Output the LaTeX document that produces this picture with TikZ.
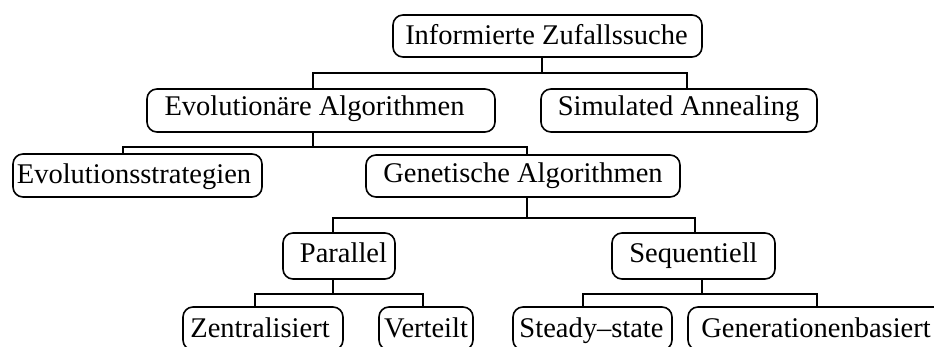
\documentclass[tikz,border=0pt]{standalone}
\usepackage{fontspec}
\setmainfont{Liberation Serif}
\begin{document}
\begin{tikzpicture}[x=1pt,y=-1pt,
  box/.style={draw, line width=1.6pt, rounded corners=10pt, inner sep=0pt},
  lbl/.style={font=\fontsize{28.5}{30}\selectfont, inner sep=0pt, anchor=base},
  conn/.style={line width=1.6pt}]
\fill[white] (0,0) rectangle (934,347);
\useasboundingbox (0,0) rectangle (934,347);

% boxes
\node[box, minimum width=309pt, minimum height=42pt] (root) at (547.5,36) {};
\node[box, minimum width=348pt, minimum height=43pt] (evo) at (321,110.5) {};
\node[box, minimum width=276pt, minimum height=43pt] (sa) at (679,110.5) {};
\node[box, minimum width=249pt, minimum height=43pt] (es) at (137.5,175.5) {};
\node[box, minimum width=314pt, minimum height=42pt] (ga) at (523,176) {};
\node[box, minimum width=112pt, minimum height=46pt] (par) at (339,256) {};
\node[box, minimum width=163pt, minimum height=46pt] (seq) at (693.5,256) {};
\node[box, minimum width=160pt, minimum height=43pt] (zen) at (263,328.5) {};
\node[box, minimum width=94pt, minimum height=43pt] (ver) at (426,328.5) {};
\node[box, minimum width=159pt, minimum height=43pt] (ste) at (592.5,328.5) {};
\node[box, minimum width=257pt, minimum height=43pt] (gen) at (816.5,328.5) {};

% labels
\node[lbl] (root-t) at (546.5,45) {Informierte Zufallssuche};
\node[lbl] (evo-t) at (314.5,116) {Evolutionäre Algorithmen};
\node[lbl] (sa-t) at (678.5,116) {Simulated Annealing};
\node[lbl] (es-t) at (134,184) {Evolutionsstrategien};
\node[lbl] (ga-t) at (523,183) {Genetische Algorithmen};
\node[lbl] (par-t) at (343.5,263) {Parallel};
\node[lbl] (seq-t) at (693.5,263) {Sequentiell};
\node[lbl] (zen-t) at (260,337) {Zentralisiert};
\node[lbl] (ver-t) at (426,337) {Verteilt};
\node[lbl] (ste-t) at (591.5,337) {Steady–state};
\node[lbl] (gen-t) at (816,337) {Generationenbasiert};

% attachment points of the connectors
\coordinate (rootS) at ([xshift=-5.5pt]root.south);
\coordinate (evoN) at ([xshift=-8pt]evo.north);
\coordinate (evoS) at ([xshift=-8pt]evo.south);
\coordinate (saN) at ([xshift=8pt]sa.north);
\coordinate (esN) at ([xshift=-14.5pt]es.north);
\coordinate (gaN) at ([xshift=4pt]ga.north);
\coordinate (gaS) at ([xshift=4pt]ga.south);
\coordinate (parN) at ([xshift=-6pt]par.north);
\coordinate (parS) at ([xshift=-6pt]par.south);
\coordinate (seqN) at ([xshift=1.5pt]seq.north);
\coordinate (seqS) at ([xshift=8.5pt]seq.south);
\coordinate (zenN) at ([xshift=-8pt]zen.north);
\coordinate (verN) at ([xshift=-3pt]ver.north);
\coordinate (steN) at ([xshift=-9.5pt]ste.north);
\coordinate (genN) at ([xshift=0.5pt]gen.north);

% levels of the horizontal bars
\coordinate (bar1) at (0,73);
\coordinate (bar2) at (0,147);
\coordinate (bar3) at (0,218);
\coordinate (bar4) at (0,294);

% tree connectors
\draw[conn] (rootS) -- (rootS |- bar1);
\draw[conn] (evoN) -- (evoN |- bar1) -- (saN |- bar1) -- (saN);

\draw[conn] (evoS) -- (evoS |- bar2);
\draw[conn] (esN) -- (esN |- bar2) -- (gaN |- bar2) -- (gaN);

\draw[conn] (gaS) -- (gaS |- bar3);
\draw[conn] (parN) -- (parN |- bar3) -- (seqN |- bar3) -- (seqN);

\draw[conn] (parS) -- (parS |- bar4);
\draw[conn] (zenN) -- (zenN |- bar4) -- (verN |- bar4) -- (verN);

\draw[conn] (seqS) -- (seqS |- bar4);
\draw[conn] (steN) -- (steN |- bar4) -- (genN |- bar4) -- (genN);
\end{tikzpicture}
\end{document}
